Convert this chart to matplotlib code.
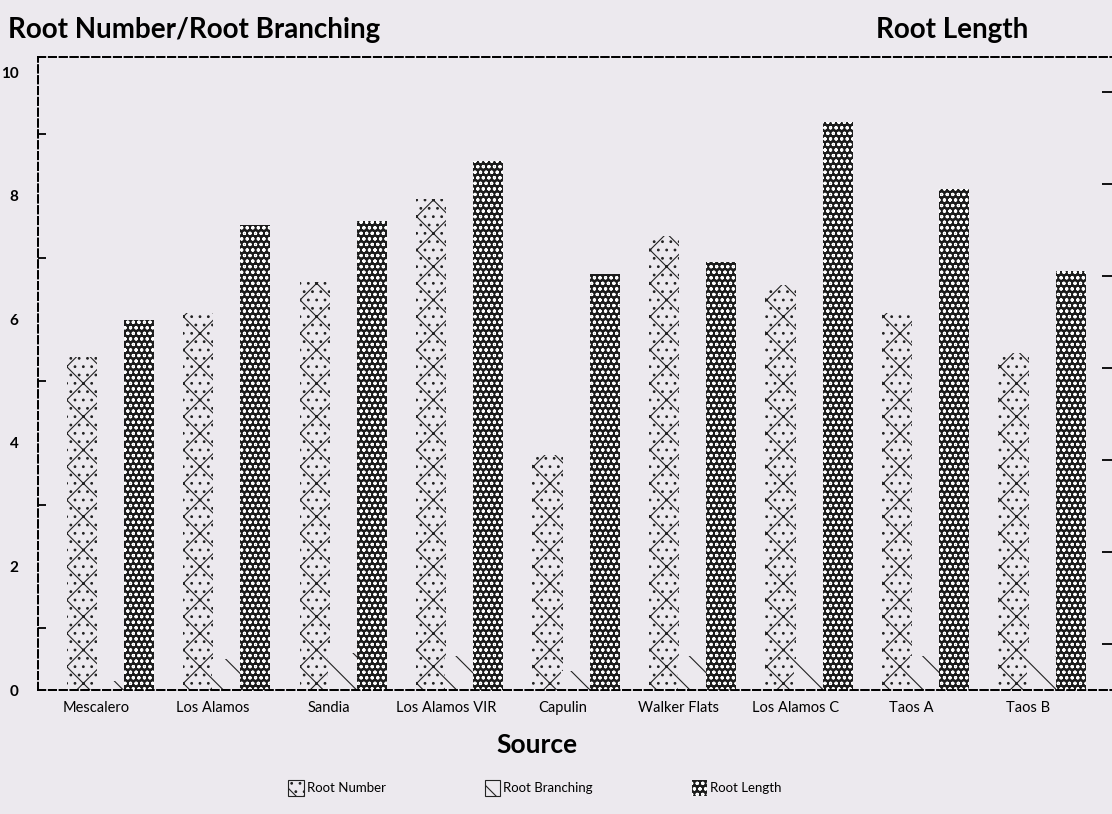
import numpy as np
import matplotlib
matplotlib.use("Agg")
from matplotlib import pyplot as plt
from matplotlib.patches import Patch

# データ
sources = ["Mescalero", "Los Alamos", "Sandia", "Los Alamos VIR", "Capulin",
           "Walker Flats", "Los Alamos C", "Taos A", "Taos B"]
root_number = [5.4, 6.1, 6.6, 7.95, 3.8, 7.35, 6.55, 6.1, 5.45]
root_branching = [0.15, 0.5, 0.6, 0.55, 0.3, 0.55, 0.5, 0.55, 0.55]
root_length = [8.05, 10.1, 10.2, 11.5, 9.05, 9.3, 12.35, 10.9, 9.1]

left_ticks = [0, 2, 4, 6, 8, 10]
left_minor = [1, 3, 5, 7, 9]
right_minor = [1, 3, 5, 7, 9, 11, 13]

bg = "#ece9ee"
plt.rcParams['font.family'] = ['Lato', 'DejaVu Sans']
plt.rcParams['hatch.linewidth'] = 0.8

fig = plt.figure(figsize=(11.12, 8.14), dpi=100, facecolor=bg)
ax = fig.add_axes([0.0342, 0.1523, 0.9658, 0.7777])
ax.set_facecolor(bg)
ax2 = ax.twinx()

x = np.arange(len(sources))
w = 0.26
off = 0.245

rn_hatch = "x.."
rb_hatch = "\\"
rl_hatch = "ooo"

# 棒グラフ
ax.bar(x - off, root_number, w, facecolor=bg, edgecolor="#222222",
       linewidth=0, hatch=rn_hatch)
ax.bar(x, root_branching, w, facecolor=bg, edgecolor="#222222",
       linewidth=0, hatch=rb_hatch)
ax2.bar(x + off, root_length, w, facecolor="#1c1c1c", edgecolor="white",
        linewidth=0, hatch=rl_hatch)

ax.set_xlim(-0.62, 8.6)
ax.set_ylim(0, 10.25)
ax2.set_ylim(0, 13.76)

# 軸
for a in (ax, ax2):
    for s in ("left", "top", "bottom"):
        a.spines[s].set_linestyle((0, (4, 2)))
        a.spines[s].set_linewidth(1.3)
    a.spines["right"].set_visible(False)

ax.set_yticks(left_ticks)
ax.set_yticklabels([str(t) for t in left_ticks], fontsize=11, fontweight="bold")
ax.tick_params(axis="y", length=0, pad=14)
ax.set_yticks(left_minor, minor=True)
ax.tick_params(axis="y", which="minor", direction="in", length=6, width=1.3)

ax.set_xticks(x - 0.12)
ax.set_xticklabels(sources, fontsize=10.5)
ax.tick_params(axis="x", length=0, pad=8)

ax2.set_yticks([])
ax2.set_yticks(right_minor, minor=True)
ax2.tick_params(axis="y", which="minor", direction="in", length=7, width=1.3,
                labelright=False)

fig.text(0.007, 0.963, "Root Number/Root Branching", fontsize=20,
         fontweight="bold", va="center")
fig.text(0.788, 0.963, "Root Length", fontsize=20, fontweight="bold", va="center")
fig.text(0.483, 0.085, "Source", fontsize=19, fontweight="bold", ha="center",
         va="center")

# 凡例
handles = [Patch(facecolor=bg, edgecolor="#222222", hatch=rn_hatch, linewidth=0.8),
           Patch(facecolor=bg, edgecolor="#222222", hatch=rb_hatch, linewidth=0.8),
           Patch(facecolor="#1c1c1c", edgecolor="white", hatch=rl_hatch, linewidth=0)]
fig.legend(handles, ["Root Number", "Root Branching", "Root Length"],
           loc="center", bbox_to_anchor=(0.481, 0.032), ncol=3, frameon=False,
           fontsize=9.5, handlelength=1.2, handleheight=1.4,
           handletextpad=0.2, columnspacing=7.5)

fig.savefig("out.png", dpi=100, facecolor=bg)
